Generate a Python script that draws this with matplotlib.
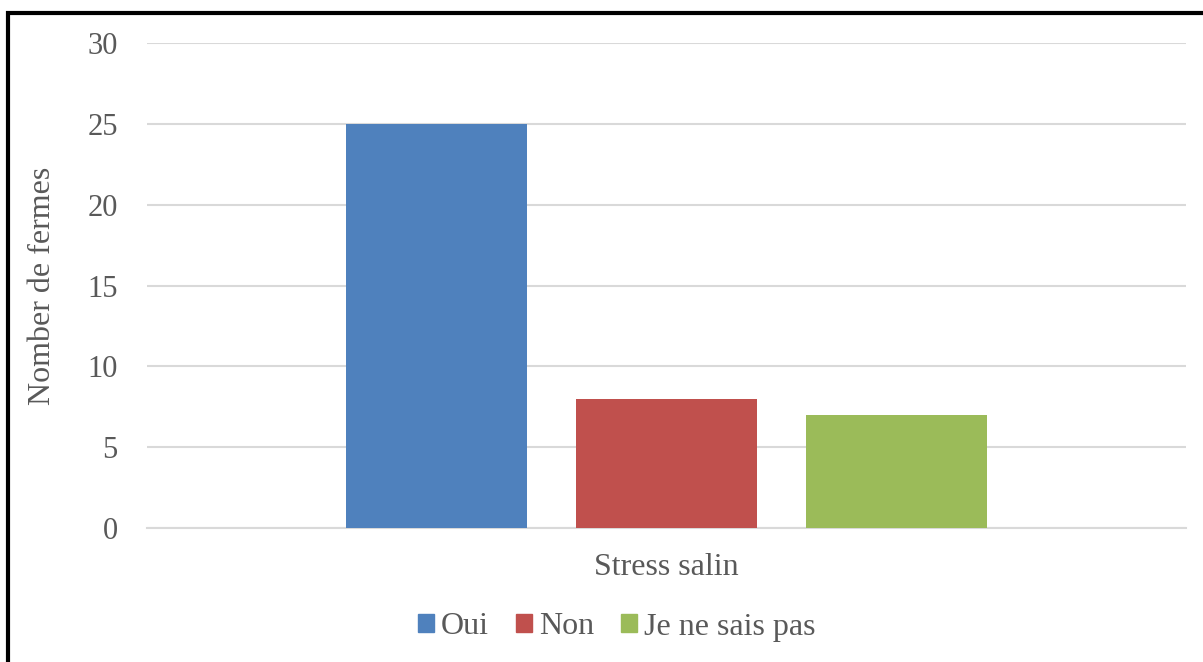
import matplotlib
matplotlib.use("Agg")
import matplotlib.pyplot as plt
from matplotlib.patches import Rectangle, Patch

plt.rcParams['font.family'] = ['Liberation Serif', 'DejaVu Serif']

category = "Stress salin"
series_names = ["Oui", "Non", "Je ne sais pas"]
series_values = [25, 8, 7]
series_colors = ["#4f81bd", "#c0504d", "#9bbb59"]
y_ticks = [0, 5, 10, 15, 20, 25, 30]

text_col = "#595959"
grid_col = "#d9d9d9"

fig = plt.figure(figsize=(12.03, 6.62), dpi=100)
ax = fig.add_axes([0.1222, 0.2024, 0.8637, 0.7326])

bar_w = 0.175
step = 0.2214
for i, (name, val, col) in enumerate(zip(series_names, series_values, series_colors)):
    ax.bar((i - 1) * step, val, width=bar_w, color=col, label=name, zorder=3)

ax.set_xlim(-0.5, 0.5)
ax.set_ylim(0, 30)
ax.set_yticks(y_ticks)
ax.set_yticklabels([str(t) for t in y_ticks], fontsize=22, color=text_col)
ax.tick_params(axis='y', length=0, pad=21)
ax.set_xticks([0])
ax.set_xticklabels([category], fontsize=23, color=text_col)
ax.tick_params(axis='x', length=0, pad=18)
ax.grid(axis='y', color=grid_col, linewidth=1.5, zorder=0)
for s in ["top", "right", "left"]:
    ax.spines[s].set_visible(False)
ax.spines["bottom"].set_color(grid_col)
ax.spines["bottom"].set_linewidth(1.5)

ax.set_ylabel("Nomber de fermes", fontsize=23, color=text_col, labelpad=22)

handles = [Patch(color=c, label=n) for n, c in zip(series_names, series_colors)]
leg = fig.legend(handles=handles, loc="center", bbox_to_anchor=(617 / 1203, 1 - 627 / 662),
                 ncol=3, frameon=False, fontsize=23, handlelength=0.5, handleheight=0.5,
                 handletextpad=0.22, columnspacing=0.85)
for t in leg.get_texts():
    t.set_color(text_col)

# outer border (only left and top edges visible in the frame)
fig.patches.append(Rectangle((8 / 1203, -0.05), 1.2, 1 - 12.5 / 662 + 0.05,
                             transform=fig.transFigure, fill=False,
                             edgecolor="black", linewidth=3))

fig.savefig("out.png", dpi=100)
